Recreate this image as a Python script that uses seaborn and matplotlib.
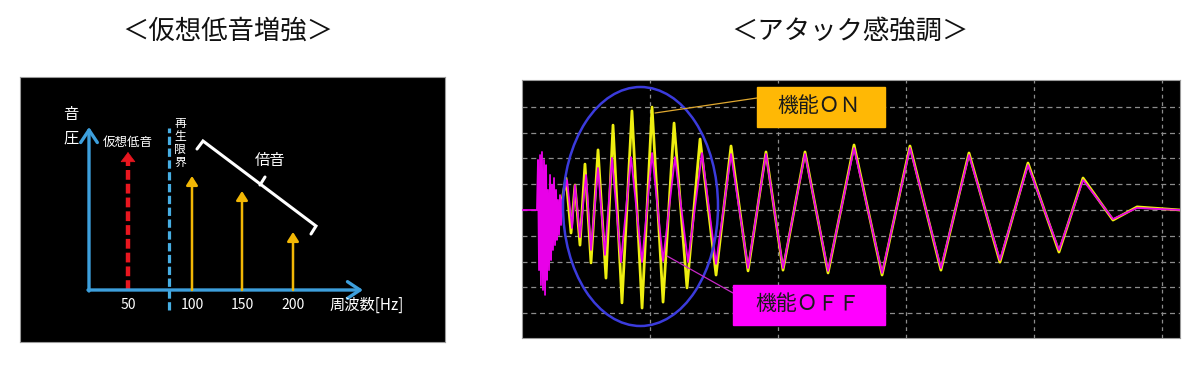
import numpy as np
import pandas as pd
import matplotlib
matplotlib.use("Agg")
import matplotlib.pyplot as plt
from matplotlib.patches import Ellipse, Rectangle
import seaborn as sns

# ---------------- data ----------------
# left: pseudo-bass spectrum (frequency in Hz, level in arbitrary units)
tick_freqs = [50, 100, 150, 200]
virtual_freq = 50
virtual_level = 138
harm_freqs = [100, 150, 200]
harm_levels = [114, 99, 58]
limit_freq = 82

# right: waveform (time in ms, amplitude in divisions)
off_t = [0, 1.17, 1.25, 1.33, 1.41, 1.48, 1.56, 1.64, 1.72, 1.80, 1.88, 1.95, 2.03, 2.11,
         2.19, 2.27, 2.34, 2.42, 2.50, 2.58, 2.66, 2.73, 2.81, 2.89, 2.97, 3.05, 3.13,
         3.52, 3.91, 4.14, 4.53, 5.00, 5.39, 5.94, 6.48, 7.03, 7.73, 8.52, 9.38, 10.16,
         11.02, 11.95, 12.97, 14.06, 15.16, 16.33, 17.66, 19.06, 20.39, 22.11, 23.91,
         25.94, 28.13, 30.31, 32.73, 34.92, 37.34, 39.53, 41.95, 43.83, 46.17, 48.05, 51.41]
off_v = [0, 0, 1.94, -2.33, 2.13, -2.91, 2.25, -3.10, 1.94, -3.29, 1.74, -2.71, 0.78, -2.33,
         1.36, -1.94, 0.97, -1.55, 1.24, -1.36, 0.78, -1.16, 0.39, -0.97, 0.58, -0.58, 0.39,
         1.16, -0.70, 0.97, -1.05, 1.36, -1.55, 1.63, -1.74, 2.02, -2.02, 2.05, -2.02, 2.21,
         -1.98, 2.05, -2.02, 2.21, -2.09, 2.17, -2.25, 2.17, -2.25, 2.17, -2.36,
         2.40, -2.44, 2.40, -2.25, 2.13, -1.94, 1.74, -1.55, 1.16, -0.35, 0.08, 0]
on_t = [3.13, 3.44, 3.83, 4.14, 4.53, 4.92, 5.39, 5.94, 6.56, 7.11, 7.81, 8.59, 9.38, 10.16,
        11.02, 11.88, 12.89, 13.91, 15.16, 16.33, 17.66, 19.06, 20.39, 22.11, 23.91,
        25.94, 28.13, 30.31, 32.73, 34.92, 37.34, 39.53, 41.95, 43.83, 46.17, 48.05, 51.41]
on_v = [0.39, 1.24, -0.89, 0.97, -1.36, 1.78, -2.05, 2.33, -2.64, 3.29, -3.60, 3.84, -3.80, 3.99,
        -3.57, 3.37, -3.02, 2.75, -2.52, 2.48, -2.36, 2.25, -2.33, 2.25, -2.44,
        2.52, -2.52, 2.48, -2.33, 2.21, -2.02, 1.82, -1.63, 1.24, -0.39, 0.12, 0]

title_left = "＜仮想低音増強＞"
title_right = "＜アタック感強調＞"

# ---------------- style ----------------
sns.set_theme(style="white")
plt.rcParams['font.family'] = ['Noto Sans CJK JP', 'DejaVu Sans']

W, H = 1200, 368
fig = plt.figure(figsize=(12, 3.68), dpi=100)
fig.patch.set_facecolor("white")

def fig_rect(x0, y0, x1, y1):
    return [x0 / W, 1 - y1 / H, (x1 - x0) / W, (y1 - y0) / H]

# ---------------- left panel ----------------
ax1 = fig.add_axes(fig_rect(20, 77, 445, 342))
ax1.set_facecolor("black")

# schematic (non-uniform) frequency scale of the illustration
knot_f = [-100, 50, 100, 150, 200, 400]
knot_p = [-64, 128, 192, 242, 293, 497]
fwd = lambda f: np.interp(f, knot_f, knot_p)
inv = lambda p: np.interp(p, knot_p, knot_f)
ax1.set_xscale("function", functions=(fwd, inv))

def L(px, py):
    return (float(inv(px)), 290 - py)

ax1.set_xlim(L(20, 0)[0], L(445, 0)[0])
ax1.set_ylim(290 - 342, 290 - 77)
ax1.set_xticks([]); ax1.set_yticks([])
ax1.minorticks_off()
for s in ax1.spines.values():
    s.set_color("#9a9a9a"); s.set_linewidth(0.8)

axis_blue = "#3d9fdc"
x0f, _ = L(89, 290)
# axes arrows
ax1.annotate("", xy=(x0f, 163), xytext=(x0f, -1),
             arrowprops=dict(arrowstyle="->,head_length=0.45,head_width=0.3", color=axis_blue,
                             lw=2.4, shrinkA=0, shrinkB=0, mutation_scale=20))
ax1.annotate("", xy=(L(363, 0)[0], 0), xytext=(L(88, 0)[0], 0),
             arrowprops=dict(arrowstyle="->,head_length=0.45,head_width=0.3", color=axis_blue,
                             lw=2.4, shrinkA=0, shrinkB=0, mutation_scale=20))

# reproduction limit (dashed)
ax1.plot([limit_freq, limit_freq], [-20, 162], color="#47aee3", lw=2.3,
         ls=(0, (2.6, 1.1)), solid_capstyle="butt")

# virtual bass (red dashed arrow)
red = "#e8161f"
ax1.plot([virtual_freq, virtual_freq], [0, virtual_level - 7], color=red, lw=3.2,
         ls=(0, (2.2, 0.9)), solid_capstyle="butt", dash_capstyle="butt")
ax1.annotate("", xy=(virtual_freq, virtual_level), xytext=(virtual_freq, virtual_level - 8),
             arrowprops=dict(arrowstyle="-|>,head_length=0.6,head_width=0.45", color=red,
                             lw=0.5, shrinkA=0, shrinkB=0, mutation_scale=11))

# harmonics (yellow arrows)
amber = "#f2b705"
for f, lv in zip(harm_freqs, harm_levels):
    ax1.annotate("", xy=(f, lv), xytext=(f, 0),
                 arrowprops=dict(arrowstyle="-|>,head_length=0.6,head_width=0.38", color=amber,
                                 lw=1.8, shrinkA=0, shrinkB=0, mutation_scale=9))

# tick labels
for f in tick_freqs:
    ax1.text(f, -15, str(f), color="white", ha="center", va="center", fontsize=10)
ax1.text(*L(367, 305), "周波数[Hz]", color="white", ha="center", va="center", fontsize=11)
ax1.text(*L(71, 115), "音", color="white", ha="center", va="center", fontsize=11)
ax1.text(*L(71, 138), "圧", color="white", ha="center", va="center", fontsize=11)
ax1.text(*L(127.5, 142), "仮想低音", color="white", ha="center", va="center", fontsize=9)
ax1.text(*L(180, 143), "再\n生\n限\n界", color="white", ha="center", va="center",
         fontsize=8.5, linespacing=1.0)
ax1.text(*L(270, 161), "倍音", color="white", ha="center", va="center", fontsize=11)

# bracket for harmonics
bx = [L(197, 149), L(203, 141), L(316, 226), L(311, 234)]
ax1.plot([p[0] for p in bx], [p[1] for p in bx], color="white", lw=2.2, solid_joinstyle="miter")
m1, m2 = L(265, 177), L(260, 185)
ax1.plot([m1[0], m2[0]], [m1[1], m2[1]], color="white", lw=2.2)

# ---------------- right panel ----------------
ax2 = fig.add_axes(fig_rect(522, 80, 1180, 338))
ax2.set_facecolor("black")

def R(px, py):
    return ((px - 522) / 12.8, (210 - py) / 25.8)

ax2.set_xlim(0, 658 / 12.8)
ax2.set_ylim((210 - 338) / 25.8, (210 - 80) / 25.8)
for yv in range(-4, 5):
    ax2.axhline(yv, color="#8c8c8c", lw=0.9, ls=(0, (4, 3)), zorder=1)
for xv in [10, 20, 30, 40, 50]:
    ax2.axvline(xv, color="#8c8c8c", lw=0.9, ls=(0, (3, 3)), zorder=1)

df_on = pd.DataFrame({"t": on_t, "v": on_v})
df_off = pd.DataFrame({"t": off_t, "v": off_v})
sns.lineplot(data=df_on, x="t", y="v", sort=False, estimator=None, color="#eeee10",
             lw=2.0, ax=ax2, zorder=3)
sns.lineplot(data=df_off, x="t", y="v", sort=False, estimator=None, color="#e800e8",
             lw=1.3, ax=ax2, zorder=4)
ax2.set_xlabel(""); ax2.set_ylabel("")
ax2.set_xticks([]); ax2.set_yticks([])
for s in ax2.spines.values():
    s.set_color("#9a9a9a"); s.set_linewidth(0.8)

# ellipse highlighting the attack region
c = R(640.5, 206.5)
ax2.add_patch(Ellipse(c, 155 / 12.8, 239 / 25.8, fill=False, ec="#3b3bdc", lw=1.8, zorder=5))

# leader lines
p1, p2 = R(655, 113), R(757, 98)
ax2.plot([p1[0], p2[0]], [p1[1], p2[1]], color="#e0a830", lw=0.9, zorder=6)
q1, q2 = R(667, 256), R(733, 293)
ax2.plot([q1[0], q2[0]], [q1[1], q2[1]], color="#c828c8", lw=0.9, zorder=6)

# ---------------- overlay (titles, labels) ----------------
ov = fig.add_axes([0, 0, 1, 1])
ov.set_xlim(0, W); ov.set_ylim(H, 0)
ov.axis("off")
ov.patch.set_alpha(0)

ov.text(228, 31, title_left, ha="center", va="center", fontsize=19, color="#111111")
ov.text(850, 31, title_right, ha="center", va="center", fontsize=19, color="#111111")

ov.add_patch(Rectangle((757, 87), 128, 40, color="#ffb805", zorder=7))
ov.text(819.5, 106.5, "機能ＯＮ", ha="center", va="center", fontsize=15, color="#1a1a1a", zorder=8)
ov.add_patch(Rectangle((733, 285), 152, 40, color="#ff00ff", zorder=7))
ov.text(807.5, 304.5, "機能ＯＦＦ", ha="center", va="center", fontsize=15, color="#1a1a1a", zorder=8)

fig.savefig("out.png", dpi=100, facecolor="white")
